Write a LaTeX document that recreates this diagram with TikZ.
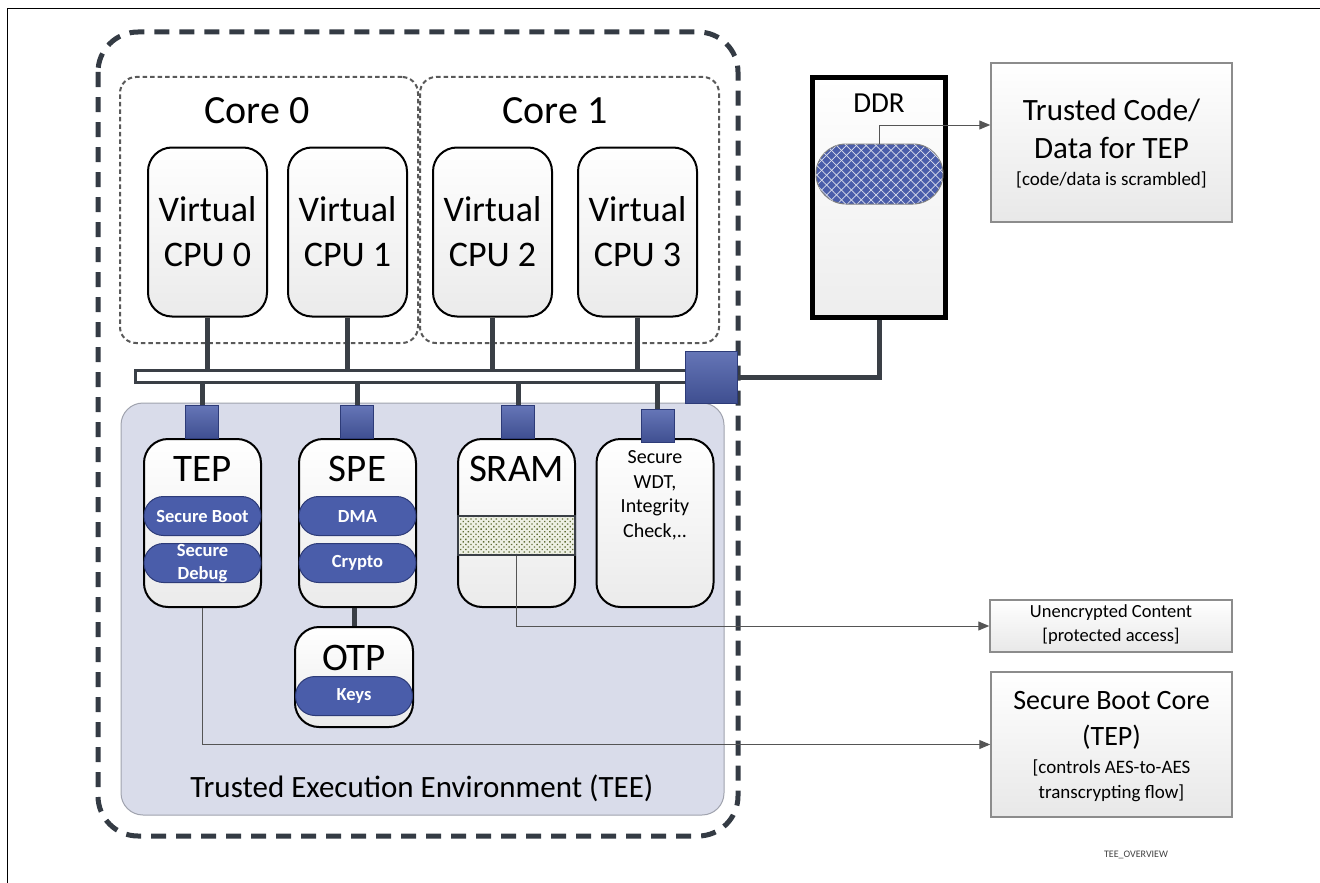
\documentclass[tikz,border=0pt]{standalone}
\usepackage{fontspec}
\setmainfont{Carlito}
\usetikzlibrary{patterns.meta,arrows.meta,shapes.misc,calc}
\definecolor{frameink}{HTML}{343B44}
\definecolor{wire}{HTML}{3A3F46}
\definecolor{chipblue}{HTML}{4A5DAA}
\definecolor{chipedge}{HTML}{2D3B78}
\definecolor{teefill}{HTML}{D9DCEA}
\definecolor{teeedge}{HTML}{A0A3AE}
\definecolor{boxedge}{HTML}{8C8C8C}
\definecolor{thin}{HTML}{555555}
\definecolor{dotbg}{HTML}{EEF0E4}
\definecolor{dotink}{HTML}{5F6D36}
\newcommand\fsz[2]{\fontsize{#1}{#2}\selectfont}

\tikzset{
  card/.style={draw=black, line width=2pt, rounded corners=24pt,
    top color=white, bottom color=black!8, inner sep=0pt},
  cpubox/.style={card, minimum width=119pt, minimum height=169pt,
    align=center, font=\fsz{36}{45}},
  unitbox/.style={card, minimum width=117pt, minimum height=168pt},
  title/.style={font=\fsz{39}{44}, inner sep=0pt},
  pill/.style={rounded rectangle, fill=chipblue, draw=chipedge, line width=1pt,
    text=white, font=\bfseries\fsz{18.5}{23}, minimum width=117pt,
    minimum height=39pt, inner sep=0pt, align=center},
  port/.style={draw=chipedge, line width=0.8pt, top color=chipblue!85!white,
    bottom color=chipblue!85!black, minimum size=33pt, inner sep=0pt},
  buswire/.style={draw=wire, line width=5pt},
  thinwire/.style={draw=thin, line width=1pt},
  thinarrow/.style={thinwire, -{Triangle[length=11pt,width=9pt]}},
  sidebox/.style={draw=boxedge, line width=1.5pt, top color=white,
    bottom color=black!9, inner sep=0pt},
  coredash/.style={draw=black!65, line width=2pt, dash pattern=on 4.5pt off 3pt,
    rounded corners=16pt, inner sep=0pt},
  label/.style={inner sep=0pt, align=center},
}

\begin{document}
\begin{tikzpicture}[x=1pt,y=-1pt]
\useasboundingbox (0,0) rectangle (1320,883);

% page edge
\draw[black, line width=1pt] (7,883) -- (7,9) -- (1320,9);

% outer trust boundary
\draw[frameink, line width=5pt, dash pattern=on 15pt off 10pt, rounded corners=40pt]
  (98,32) rectangle (738,836);

% cores
\node[coredash, minimum width=298pt, minimum height=266pt] (core0) at (269,210) {};
\node[coredash, minimum width=299pt, minimum height=266pt] (core1) at (569.5,210) {};
\node[label, font=\fsz{40}{48}] (core0lbl) at (257,111) {Core 0};
\node[label, font=\fsz{40}{48}] (core1lbl) at (555,111) {Core 1};

% virtual CPUs
\node[cpubox] (cpu0) at (207.5,232) {Virtual\\CPU 0};
\node[cpubox] (cpu1) at (347.5,232) {Virtual\\CPU 1};
\node[cpubox] (cpu2) at (492.5,232) {Virtual\\CPU 2};
\node[cpubox] (cpu3) at (637.5,232) {Virtual\\CPU 3};

% TEE region
\node[draw=teeedge, line width=1pt, fill=teefill, rounded corners=22pt,
  minimum width=603pt, minimum height=412pt, inner sep=0pt] (tee) at (422.5,609) {};
\node[label, font=\fsz{31}{38}] (teelbl) at (422,788) {Trusted Execution Environment (TEE)};

% system bus
\node[draw=wire, line width=3pt, fill=white, minimum width=551pt, minimum height=12pt,
  inner sep=0pt] (bus) at (410.5,376.5) {};
\foreach \c in {cpu0,cpu1,cpu2,cpu3}
  \draw[buswire] (\c.south) -- (\c.south |- bus.north);

% secure units
\node[unitbox] (tep)  at (202.5,523) {};
\node[unitbox] (spe)  at (357.5,523) {};
\node[unitbox] (sram) at (516.5,523) {};
\node[unitbox] (wdt)  at (655,523) {};
\node[card, minimum width=118pt, minimum height=100pt] (otp) at (354,677) {};

\node[title] (teplbl)  at (202.5,469) {TEP};
\node[title] (spelbl)  at (357.5,469) {SPE};
\node[title] (sramlbl) at (516.5,469) {SRAM};
\node[title] (otplbl)  at (354,658) {OTP};
\node[label, font=\fsz{20}{24.5}] (wdtlbl) at (655,495.5) {Secure\\WDT,\\Integrity\\Check,..};

\node[pill] (boot)   at (202.5,516) {Secure Boot};
\node[pill] (debug)  at (202.5,563) {Secure\\Debug};
\node[pill] (dma)    at (357.5,516) {DMA};
\node[pill] (crypto) at (357.5,563) {Crypto};
\node[pill] (keys)   at (354,696) {Keys};

\draw[buswire] (otp.north |- spe.south) -- (otp.north);

% protected SRAM window
\node[draw=wire, line width=1.2pt, preaction={fill=dotbg},
  pattern={Dots[distance=3.6pt,angle=45,radius=0.95pt]}, pattern color=dotink,
  minimum width=117pt, minimum height=39pt, inner sep=0pt] (sramseg) at (516.5,535.5) {};

% bus ports
\node[port] (tepport)  at (202,422) {};
\node[port] (speport)  at (357,422) {};
\node[port] (sramport) at (518,422) {};
\node[port] (wdtport)  at (657.5,426) {};
\foreach \p in {tepport,speport,sramport,wdtport}
  \draw[buswire] (\p.north) -- (\p.north |- bus.south);

\node[port, minimum size=52pt] (hub) at (711.5,377) {};

% DDR
\node[draw=black, line width=5pt, top color=white, bottom color=black!7,
  minimum width=133pt, minimum height=240pt, inner sep=0pt] (ddr) at (879,197.5) {};
\node[label, font=\fsz{29}{34}] (ddrlbl) at (879,103) {DDR};
\node[rounded rectangle, draw=black!50, line width=1pt, preaction={fill=chipblue},
  pattern={Lines[angle=45,distance=7pt,line width=0.7pt]}, pattern color=white!80!chipblue,
  postaction={pattern={Lines[angle=-45,distance=7pt,line width=0.7pt]}, pattern color=white!80!chipblue},
  minimum width=127pt, minimum height=60pt, inner sep=0pt] (ddrpool) at (879.5,174) {};
\draw[buswire] (hub.east) -| (ddr.south);

% side notes
\node[sidebox, minimum width=241pt, minimum height=159pt] (trusted) at (1111.5,142.5) {};
\node[label, font=\fsz{31}{38}] (trustedlbl) at (1111.5,129) {Trusted Code/\\Data for TEP};
\node[label, font=\fsz{19}{22}] (trustednote) at (1111.5,180) {[code/data is scrambled]};

\node[sidebox, minimum width=242pt, minimum height=52pt] (unenc) at (1111,626) {};
\node[label, font=\fsz{18.5}{24}] (unenclbl) at (1111,625) {Unencrypted Content\\{}[protected access]};

\node[sidebox, minimum width=241pt, minimum height=145pt] (sbcore) at (1111.5,744.5) {};
\node[label, font=\fsz{28}{36}] (sbcorelbl) at (1111.5,720) {Secure Boot Core\\(TEP)};
\node[label, font=\fsz{19}{25}] (sbcorenote) at (1111.5,781) {[controls AES-to-AES\\transcrypting flow]};

% data paths
\draw[thinarrow] (ddrpool.north) |- ($(trusted.west)+(0,-17.5)$);
\draw[thinarrow] (sramseg.south) |- (unenc.west);
\draw[thinarrow] (tep.south) |- (sbcore.west);

\node[label, font=\fsz{10}{12}, text=black!75] (figid) at (1136,855) {TEE\_OVERVIEW};
\end{tikzpicture}
\end{document}
